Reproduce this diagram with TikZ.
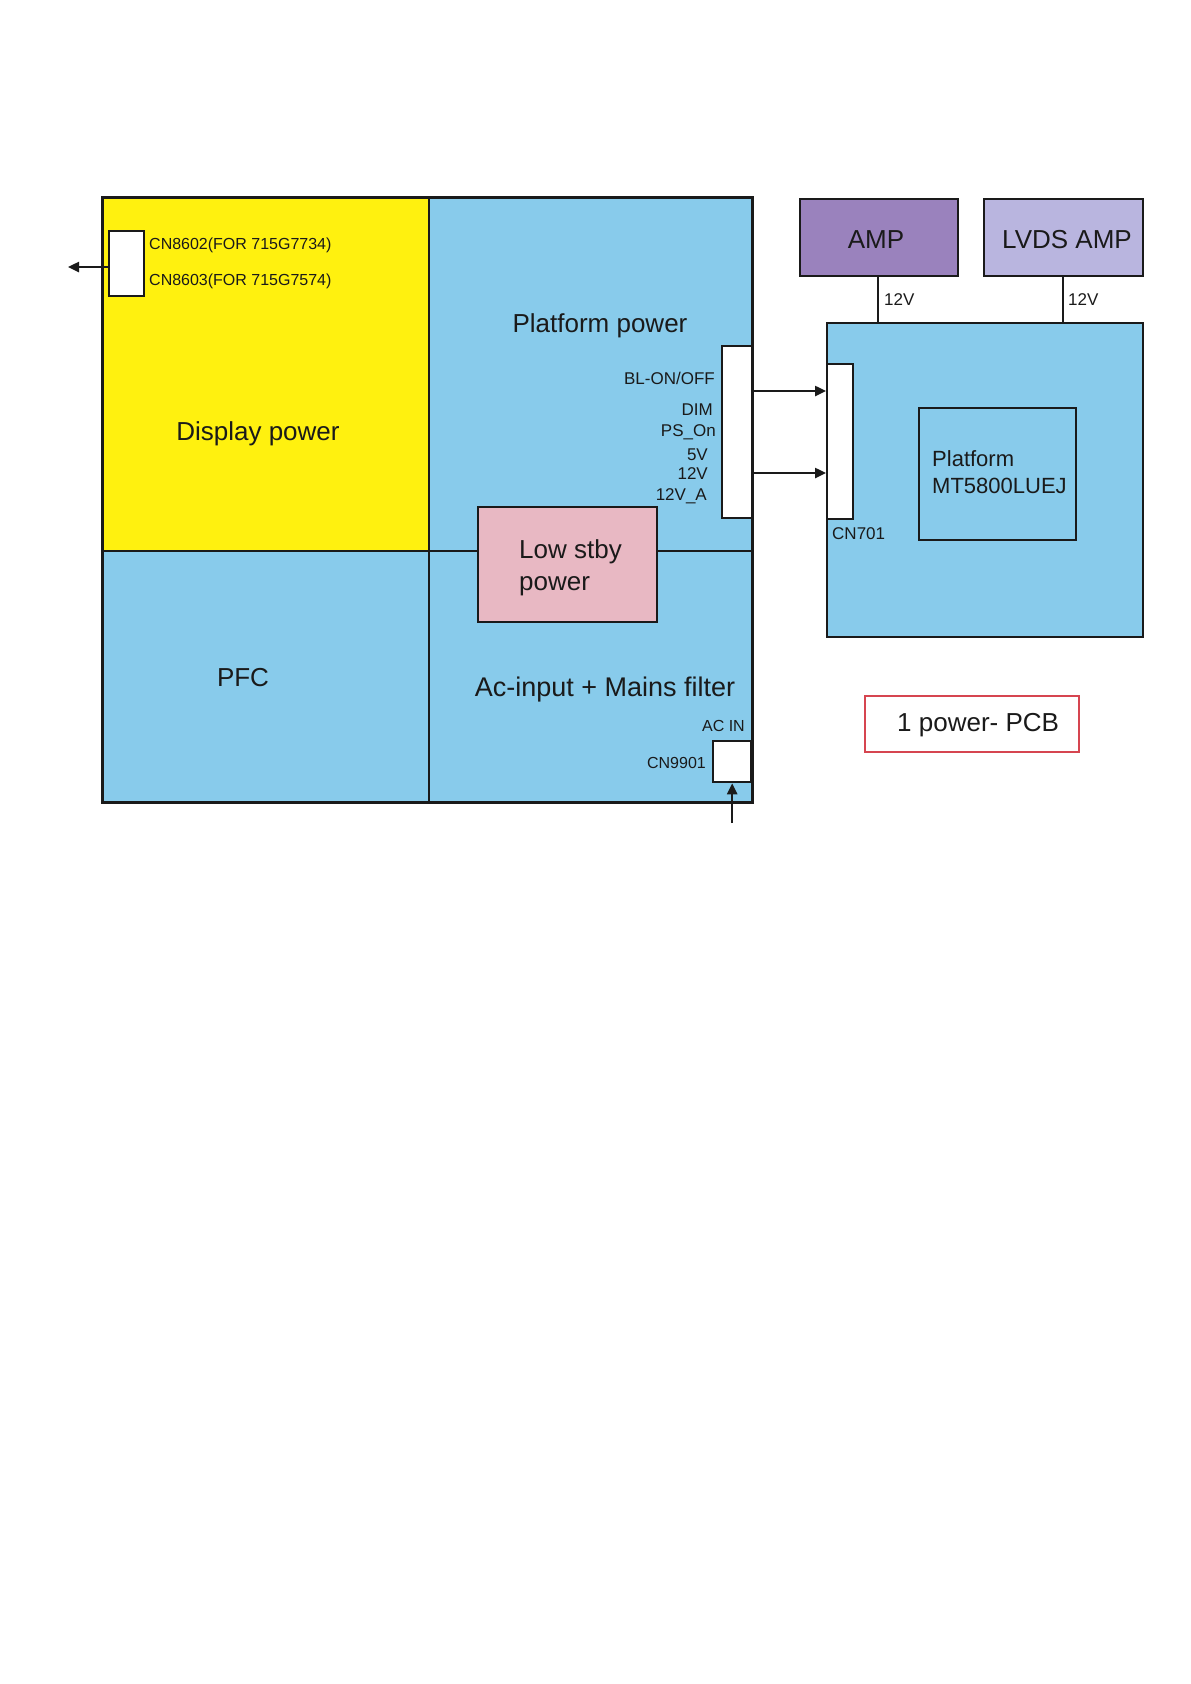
\documentclass[tikz,border=0pt]{standalone}
\usepackage{fontspec}
\setmainfont{Liberation Sans}
\usetikzlibrary{arrows.meta}
\definecolor{ylw}{HTML}{FFF10F}
\definecolor{sky}{HTML}{88CBEB}
\definecolor{pnk}{HTML}{E8B8C3}
\definecolor{ampc}{HTML}{9A82BD}
\definecolor{lvdsc}{HTML}{B9B5DF}
\definecolor{redb}{HTML}{D64550}
\definecolor{ink}{HTML}{1A1A1A}
\begin{document}
\begin{tikzpicture}[x=1pt,y=-1pt,
  blk/.style={draw=ink, line width=2.3pt, inner sep=0pt, anchor=north west},
  sml/.style={inner sep=0pt, text=ink, font=\fontsize{17}{20}\selectfont},
  cnl/.style={inner sep=0pt, text=ink, font=\fontsize{16}{19}\selectfont},
  big/.style={inner sep=0pt, text=ink, font=\fontsize{26}{30}\selectfont},
  conn/.style={-{Triangle[length=11pt,width=10pt]}, line width=2.4pt, draw=ink},
  wire/.style={line width=2.4pt, draw=ink}]
\fill[white] (0,0) rectangle (1191,1684);
\useasboundingbox (0,0) rectangle (1191,1684);

% power board
\fill[sky] (101,196) rectangle (751,801);
\node[fill=ylw, inner sep=0pt, minimum width=328pt, minimum height=355pt, anchor=north west] (disp) at (101,196) {};
\draw[wire] (429,196) -- (429,801);
\draw[wire] (101,551) -- (751,551);
\node[blk, line width=2.8pt, minimum width=650pt, minimum height=605pt] (board) at (101,196) {};

% low stby power
\node[blk, fill=pnk, minimum width=179pt, minimum height=115pt] (lsp) at (477,506) {};
\node[big, anchor=base west] (lsp1) at (519,558) {Low stby};
\node[big, anchor=base west] (lsp2) at (519,590) {power};

% region labels
\node[big, anchor=base] (dispt) at (258,440) {Display power};
\node[big, anchor=base] (platt) at (600,332) {Platform power};
\node[big, anchor=base] (pfct) at (243,686) {PFC};
\node[big, font=\fontsize{27}{31}\selectfont, anchor=base] (act) at (605,696) {Ac-input + Mains filter};

% CN8602 connector
\node[blk, fill=white, minimum width=35pt, minimum height=65pt] (cn86) at (108,230) {};
\node[cnl, anchor=base west] (cn86a) at (149,249) {CN8602(FOR 715G7734)};
\node[cnl, anchor=base west] (cn86b) at (149,285) {CN8603(FOR 715G7574)};
\coordinate (leftend) at (68,267);
\draw[conn] (cn86.west |- leftend) -- (leftend);

% platform power connector
\node[blk, fill=white, minimum width=30pt, minimum height=172pt] (pc) at (721,345) {};
\node[sml, anchor=base east] (l1) at (715,384) {BL-ON/OFF};
\node[sml, anchor=base east] (l2) at (713,415) {DIM};
\node[sml, anchor=base east] (l3) at (716,436) {PS\_On};
\node[sml, anchor=base east] (l4) at (708,460) {5V};
\node[sml, anchor=base east] (l5) at (708,479) {12V};
\node[sml, anchor=base east] (l6) at (707,500) {12V\_A};

% AC in connector
\node[blk, fill=white, minimum width=38pt, minimum height=41pt] (cn99) at (712,740) {};
\node[cnl, anchor=base east] (cn99t) at (706,768) {CN9901};
\node[cnl, anchor=base east] (acin) at (745,731) {AC IN};
\coordinate (acend) at (cn99.south |- 0,823);
\draw[conn] (acend) -- (cn99.south);

% platform board
\node[blk, fill=sky, minimum width=316pt, minimum height=314pt] (plat) at (826,322) {};
\node[blk, line width=1.8pt, minimum width=157pt, minimum height=132pt] (mt) at (918,407) {};
\node[inner sep=0pt, text=ink, font=\fontsize{22}{26}\selectfont, anchor=base west] (mt1) at (932,466) {Platform};
\node[inner sep=0pt, text=ink, font=\fontsize{22}{26}\selectfont, anchor=base west] (mt2) at (932,493) {MT5800LUEJ};
\node[blk, fill=white, minimum width=26pt, minimum height=155pt] (cn701) at (826,363) {};
\node[sml, anchor=base west] (cn701t) at (832,539) {CN701};

\draw[conn] (pc.east |- 0,391) -- (cn701.west |- 0,391);
\draw[conn] (pc.east |- 0,473) -- (cn701.west |- 0,473);

% amplifiers
\node[blk, fill=ampc, minimum width=158pt, minimum height=77pt] (amp) at (799,198) {};
\node[big, anchor=base] (ampt) at (876,248) {AMP};
\node[blk, fill=lvdsc, minimum width=159pt, minimum height=77pt] (lvds) at (983,198) {};
\node[big, anchor=base] (lvdst) at (1067,248) {LVDS AMP};
\draw[wire] (amp.south -| 878,0) -- (plat.north -| 878,0);
\draw[wire] (lvds.south -| 1063,0) -- (plat.north -| 1063,0);
\node[sml, anchor=base west] (v1) at (884,305) {12V};
\node[sml, anchor=base west] (v2) at (1068,305) {12V};

% legend
\node[draw=redb, line width=2pt, inner sep=0pt, minimum width=214pt, minimum height=56pt, anchor=north west] (pcb) at (864,695) {};
\node[big, anchor=base west] (pcbt) at (897,731) {1 power- PCB};
\end{tikzpicture}
\end{document}
